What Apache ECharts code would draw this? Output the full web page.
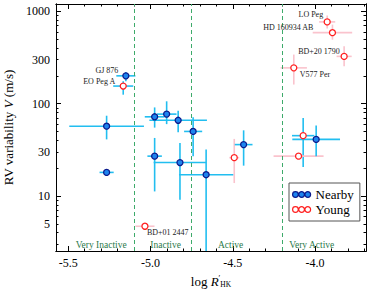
<!DOCTYPE html>
<html><head><meta charset="utf-8">
<script src="https://cdn.jsdelivr.net/npm/echarts@6/dist/echarts.min.js"></script>
<style>html,body{margin:0;padding:0;background:#fff}#c{width:370px;height:296px}</style>
</head><body><div id="c"></div>
<script>
// ---- Nearby sample ----
const nearbyNames     = ['GJ 876', '', '', '', '', '', '', '', '', '', '', ''];
const nearbyLogRHK    = [-5.150, -5.267, -5.267, -4.975, -4.902, -4.832, -4.741, -4.975, -4.821, -4.662, -4.434, -3.993];
const nearbyV         = [200, 57, 18, 72, 77, 66, 50, 27, 23, 17, 36, 41];
const nearbyLogRHKErr = [0.058, 0.227, 0.043, 0.060, 0.060, 0.175, 0.055, 0.044, 0.160, 0.165, 0.054, 0.145];
const nearbyVLow      = [175, 41, 18, 55, 60, 49, 27, 11.2, 9.1, 1.5, 21.3, 26.9];
const nearbyVHigh     = [220, 74, 18, 91, 106, 84, 71, 42.5, 37.5, 31.8, 51.4, 57.8];

// ---- Young sample ----
const youngNames      = ['EO Peg A', 'BD+01 2447', '', '', '', 'LO Peg', 'HD 160934 AB', 'BD+20 1790', 'V577 Per'];
const youngLogRHK     = [-5.166, -5.034, -4.491, -4.072, -4.100, -3.926, -3.894, -3.823, -4.129];
const youngV          = [155, 4.7, 26, 45, 27, 768, 587, 325, 244];
const youngLogRHKErr  = [0.061, 0.058, 0.030, 0.068, 0.152, 0.049, 0.120, 0.046, 0.080];
const youngVLow       = [125, 4.7, 13.8, 20.6, 27, 650, 493, 254, 161];
const youngVHigh      = [175, 4.7, 41.5, 70, 27, 900, 718, 418, 340];
const youngInNearby   = [true, false, false, true, false, false, false, false, false];

// ---- activity regimes ----
const regimeBounds = [-5.1, -4.75, -4.2];
const regimeNames  = ['Very Inactive', 'Inactive', 'Active', 'Very Active'];
const regimeLabelX = [-5.30, -4.908, -4.513, -4.02];
const regimeLabelV = [2.96, 2.96, 2.96, 2.96];

// ---- axes ----
const xMin = -5.5747, xMax = -3.690;
const yMin = 2.535, yMax = 1200;
const xMajorTicks = [-5.5, -5.0, -4.5, -4.0];
const xMinorTicks = [-5.4, -5.3, -5.2, -5.1, -4.9, -4.8, -4.7, -4.6, -4.4, -4.3, -4.2, -4.1, -3.9, -3.8, -3.7];
const yLabelTicks = [5, 10, 30, 100, 300, 1000];
const yMajorTicks = [10, 100, 1000];
const yMinorTicks = [3, 4, 5, 6, 7, 8, 9, 20, 30, 40, 50, 60, 70, 80, 90, 200, 300, 400, 500, 600, 700, 800, 900];

const FONT = 'Liberation Serif';
const CYAN = '#22BEF0', PINK = '#FAC3CD';
const BLUE_FILL = '#1E84EE', BLUE_EDGE = '#0B1A8C', RED = '#FF2020';

// label placement per named point (pixel offsets from the marker)
const labelPlace = {
  'GJ 876':       {align: 'right', dx: -7.5, dy: -5},
  'EO Peg A':     {align: 'right', dx: -8,   dy: -4.6},
  'LO Peg':       {align: 'right', dx: -4,   dy: -7.3},
  'HD 160934 AB': {align: 'right', dx: -19,  dy: -4.7},
  'BD+20 1790':   {align: 'right', dx: -4.3, dy: -5},
  'V577 Per':     {align: 'left',  dx: 6,    dy: 6.7},
  'BD+01 2447':   {align: 'left',  dx: 2,    dy: 6}
};

function errorSeries(xs, ys, xe, lo, hi, colors) {
  return {
    type: 'custom', silent: true, z: 2,
    xAxisIndex: 0, yAxisIndex: 0,
    data: xs.map((x, i) => [x, ys[i], xe[i], lo[i], hi[i], i]),
    renderItem: function (params, api) {
      const x = api.value(0), y = api.value(1), e = api.value(2);
      const l = Math.max(api.value(3), yMin), h = Math.min(api.value(4), yMax);
      const c = colors[api.value(5)];
      const a = api.coord([x - e, y]), b = api.coord([x + e, y]);
      const p = api.coord([x, l]), q = api.coord([x, h]);
      const style = {stroke: c, lineWidth: 1.6};
      return {type: 'group', children: [
        {type: 'line', shape: {x1: a[0], y1: a[1], x2: b[0], y2: b[1]}, style: style},
        {type: 'line', shape: {x1: p[0], y1: p[1], x2: q[0], y2: q[1]}, style: style}
      ]};
    }
  };
}

function pointData(xs, ys, names) {
  return xs.map((x, i) => {
    const item = {value: [x, ys[i]], name: names[i]};
    const lp = labelPlace[names[i]];
    if (lp) {
      item.label = {show: true, formatter: names[i], position: 'inside', align: lp.align,
        verticalAlign: 'middle', offset: [lp.dx, lp.dy],
        fontFamily: FONT, fontSize: 8, color: '#222',
        textBorderWidth: 0, textBorderColor: 'transparent'};
    }
    return item;
  });
}

const threeDots = 'path://M0,3a3,3 0 1,0 6,0a3,3 0 1,0 -6,0M6.5,3a3,3 0 1,0 6,0a3,3 0 1,0 -6,0M13,3a3,3 0 1,0 6,0a3,3 0 1,0 -6,0';

function xAx(pos, ticks, len, withLabels) {
  return {
    type: 'value', position: pos, min: xMin, max: xMax, gridIndex: 0,
    axisLine: {show: true, lineStyle: {color: '#000', width: 1}},
    axisTick: {show: true, inside: true, length: len, customValues: ticks, lineStyle: {color: '#000', width: 1}},
    axisLabel: withLabels ? {show: true, customValues: xMajorTicks, formatter: v => v.toFixed(1),
      fontFamily: FONT, fontSize: 12, color: '#000', margin: 6} : {show: false},
    splitLine: {show: false}
  };
}
function yAx(pos, ticks, len, withLabels) {
  return {
    type: 'log', logBase: 10, position: pos, min: yMin, max: yMax, gridIndex: 0,
    axisLine: {show: true, lineStyle: {color: '#000', width: 1}},
    axisTick: {show: true, inside: true, length: len, customValues: ticks, lineStyle: {color: '#000', width: 1}},
    axisLabel: withLabels ? {show: true, customValues: yLabelTicks, formatter: v => String(Math.round(v)),
      fontFamily: FONT, fontSize: 12, color: '#000', margin: 6} : {show: false},
    splitLine: {show: false}
  };
}

const xAxes = [xAx('bottom', xMajorTicks, 5, true), xAx('bottom', xMinorTicks, 2.5, false),
               xAx('top', xMajorTicks, 5, false), xAx('top', xMinorTicks, 2.5, false)];
xAxes[0].name = 'log {i|R}{sup|′}{sub|HK}';
xAxes[0].nameLocation = 'middle';
xAxes[0].nameGap = 23;
xAxes[0].nameTextStyle = {fontFamily: FONT, fontSize: 13, color: '#000',
  rich: {i: {fontFamily: FONT, fontSize: 13, fontStyle: 'italic'},
         sup: {fontFamily: FONT, fontSize: 8, verticalAlign: 'top'},
         sub: {fontFamily: FONT, fontSize: 7.5, verticalAlign: 'bottom', padding: [6, 0, 0, 0]}}};

const yAxes = [yAx('left', yMajorTicks, 5, true), yAx('left', yMinorTicks, 2.5, false),
               yAx('right', yMajorTicks, 5, false), yAx('right', yMinorTicks, 2.5, false)];
yAxes[0].name = 'RV variability {i|V} (m/s)';
yAxes[0].nameLocation = 'middle';
yAxes[0].nameGap = 33;
yAxes[0].nameTextStyle = {fontFamily: FONT, fontSize: 13, color: '#000',
  rich: {i: {fontFamily: FONT, fontSize: 13, fontStyle: 'italic'}}};

const chart = echarts.init(document.getElementById('c'), null, {renderer: 'svg'});
chart.setOption({
  animation: false,
  backgroundColor: '#fff',
  grid: {left: 56, right: 4, top: 4, bottom: 45, containLabel: false, outerBoundsMode: 'none'},
  xAxis: xAxes,
  yAxis: yAxes,
  legend: {
    orient: 'vertical', left: 289, top: 183,
    padding: [4, 6, 4, 3], itemGap: 0, itemWidth: 18, itemHeight: 6,
    borderColor: '#555', borderWidth: 1, backgroundColor: '#fff',
    textStyle: {fontFamily: FONT, fontSize: 13, color: '#000', lineHeight: 15},
    data: [{name: 'Nearby', icon: threeDots, itemStyle: {color: BLUE_FILL, borderColor: BLUE_EDGE, borderWidth: 1.2}},
           {name: 'Young', icon: threeDots, itemStyle: {color: '#fff', borderColor: RED, borderWidth: 1.2}}]
  },
  series: [
    {type: 'scatter', name: 'regimes', data: [], z: 0, silent: true,
     markLine: {silent: true, symbol: ['none', 'none'], label: {show: false},
       lineStyle: {color: '#3DAA6A', type: [4, 3], width: 1},
       data: regimeBounds.map(v => ({xAxis: v}))}},
    {type: 'custom', name: 'regimeLabels', silent: true, z: 1,
     data: regimeLabelX.map((x, i) => [x, regimeLabelV[i], i]),
     renderItem: function (params, api) {
       const p = api.coord([api.value(0), api.value(1)]);
       return {type: 'text', x: p[0], y: p[1],
         style: {text: regimeNames[api.value(2)], fill: '#2C7A4B', align: 'center', verticalAlign: 'middle',
           font: '9.5px "Liberation Serif"'}};
     }},
    errorSeries(youngLogRHK, youngV, youngLogRHKErr, youngVLow, youngVHigh, youngInNearby.map(b => b ? CYAN : PINK)),
    errorSeries(nearbyLogRHK, nearbyV, nearbyLogRHKErr, nearbyVLow, nearbyVHigh, nearbyNames.map(() => CYAN)),
    {type: 'scatter', name: 'Nearby', symbol: 'circle', symbolSize: 6, z: 5,
     itemStyle: {color: BLUE_FILL, borderColor: BLUE_EDGE, borderWidth: 1.3, opacity: 1},
     data: pointData(nearbyLogRHK, nearbyV, nearbyNames)},
    {type: 'scatter', name: 'Young', symbol: 'circle', symbolSize: 6, z: 5,
     itemStyle: {color: '#fff', borderColor: RED, borderWidth: 1.3, opacity: 1},
     data: pointData(youngLogRHK, youngV, youngNames)}
  ]
});
</script></body></html>
